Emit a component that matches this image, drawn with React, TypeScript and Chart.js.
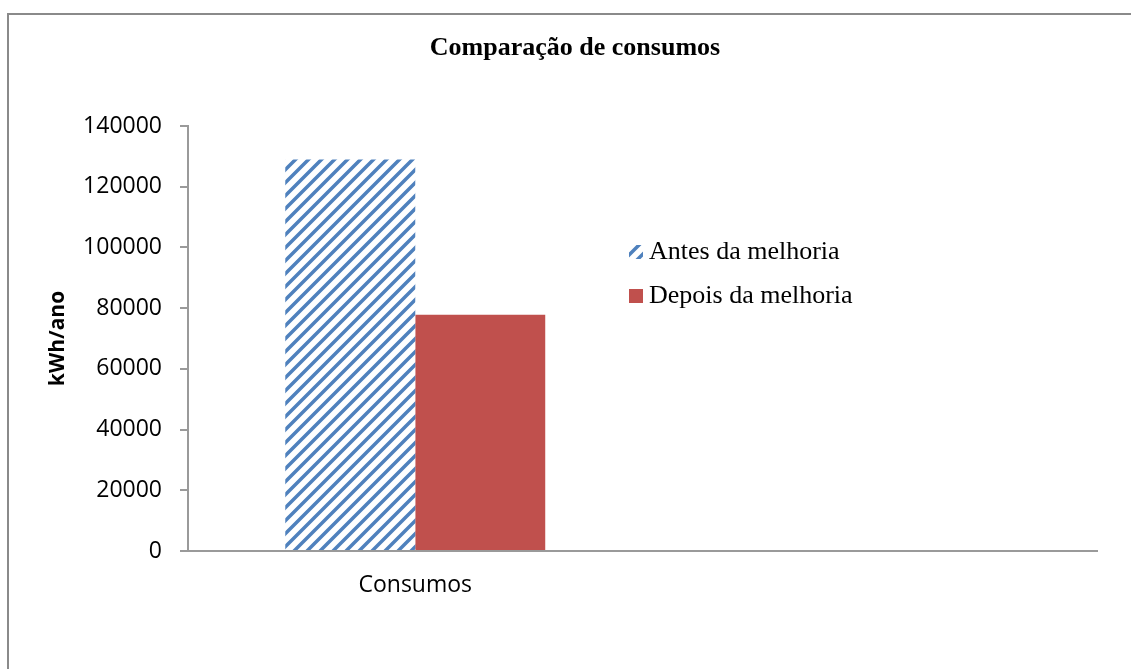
import React, { useEffect, useRef } from 'react';
import { Chart, registerables } from 'chart.js';

Chart.register(...registerables);

const chartTitle = 'Comparação de consumos';
const yAxisTitle = 'kWh/ano';
const categories = ['Consumos', ''];
const seriesLabels = ['Antes da melhoria', 'Depois da melhoria'];
const antesValues: (number | null)[] = [129000, null];
const depoisValues: (number | null)[] = [77800, null];
const yMin = 0;
const yMax = 140000;
const yStep = 20000;

const BLUE = '#4F81BD';
const RED = '#C0504D';
const AXIS = '#9a9a9a';

function makeStripes(): CanvasPattern | string {
  const size = 13;
  const c = document.createElement('canvas');
  c.width = size;
  c.height = size;
  const g = c.getContext('2d');
  if (!g) return BLUE;
  g.fillStyle = '#ffffff';
  g.fillRect(0, 0, size, size);
  g.strokeStyle = BLUE;
  g.lineWidth = 3.5;
  g.beginPath();
  for (let k = -1; k <= 1; k++) {
    g.moveTo(k * size - 3, size + 3);
    g.lineTo(k * size + size + 3, -3);
  }
  g.stroke();
  return g.createPattern(c, 'repeat') || BLUE;
}

const decorPlugin = {
  id: 'decor',
  afterDraw(chart: any) {
    const ctx: CanvasRenderingContext2D = chart.ctx;
    ctx.save();
    // outer chart border (cropped at right and bottom)
    ctx.strokeStyle = '#8a8a8a';
    ctx.lineWidth = 2;
    ctx.beginPath();
    ctx.moveTo(8, 669);
    ctx.lineTo(8, 14);
    ctx.lineTo(1131, 14);
    ctx.stroke();

    // title
    ctx.fillStyle = '#000';
    ctx.font = 'bold 26px "Liberation Serif", "Times New Roman", serif';
    ctx.textAlign = 'center';
    ctx.textBaseline = 'alphabetic';
    ctx.fillText(chartTitle, 575, 55);

    // legend
    ctx.font = '26px "Liberation Serif", "Times New Roman", serif';
    ctx.textAlign = 'left';
    const ds = chart.data.datasets;
    ds.forEach((d: any, i: number) => {
      const base = 259 + i * 44;
      ctx.fillStyle = d.backgroundColor;
      ctx.fillRect(629, base - 14, 14, 14);
      ctx.fillStyle = '#000';
      ctx.fillText(d.label, 649, base);
    });
    ctx.restore();
  },
};

export default function App() {
  const ref = useRef<HTMLCanvasElement | null>(null);

  useEffect(() => {
    if (!ref.current) return;
    const stripes = makeStripes();
    const chart = new Chart(ref.current, {
      type: 'bar',
      data: {
        labels: categories,
        datasets: [
          {
            label: seriesLabels[0],
            data: antesValues,
            backgroundColor: stripes as any,
            borderWidth: 0,
            categoryPercentage: 0.572,
            barPercentage: 1,
          },
          {
            label: seriesLabels[1],
            data: depoisValues,
            backgroundColor: RED,
            borderWidth: 0,
            categoryPercentage: 0.572,
            barPercentage: 1,
          },
        ],
      },
      options: {
        animation: false,
        responsive: false,
        maintainAspectRatio: false,
        layout: { padding: { left: 0, right: 34, top: 126, bottom: 0 } },
        plugins: {
          legend: { display: false },
          title: { display: false },
          tooltip: { enabled: false },
        },
        scales: {
          x: {
            grid: { display: false, drawTicks: false },
            border: { display: true, color: AXIS, width: 2 },
            ticks: {
              color: '#000',
              font: { family: '"Open Sans", sans-serif', size: 23 },
              padding: 21,
              maxRotation: 0,
              autoSkip: false,
            },
            afterFit: (scale: any) => {
              scale.height = 118;
            },
          },
          y: {
            min: yMin,
            max: yMax,
            grid: {
              display: true,
              drawOnChartArea: false,
              drawTicks: true,
              tickLength: 8,
              color: AXIS,
              lineWidth: 2,
            },
            border: { display: true, color: AXIS, width: 2 },
            ticks: {
              stepSize: yStep,
              color: '#000',
              font: { family: '"Open Sans", sans-serif', size: 23 },
              padding: 18,
              autoSkip: false,
              callback: (v: any) => String(v),
            },
            title: {
              display: true,
              text: yAxisTitle,
              color: '#000',
              font: { family: '"Open Sans", sans-serif', size: 21, weight: 'bold' },
              padding: { top: 45, bottom: 0 },
            },
            afterFit: (scale: any) => {
              scale.width = 188;
            },
          },
        },
      },
      plugins: [decorPlugin],
    });
    return () => chart.destroy();
  }, []);

  return (
    <div style={{ position: 'absolute', left: 0, top: 0, width: 1131, height: 669, background: '#fff' }}>
      <canvas ref={ref} width={1131} height={669} style={{ width: 1131, height: 669, display: 'block' }} />
    </div>
  );
}
